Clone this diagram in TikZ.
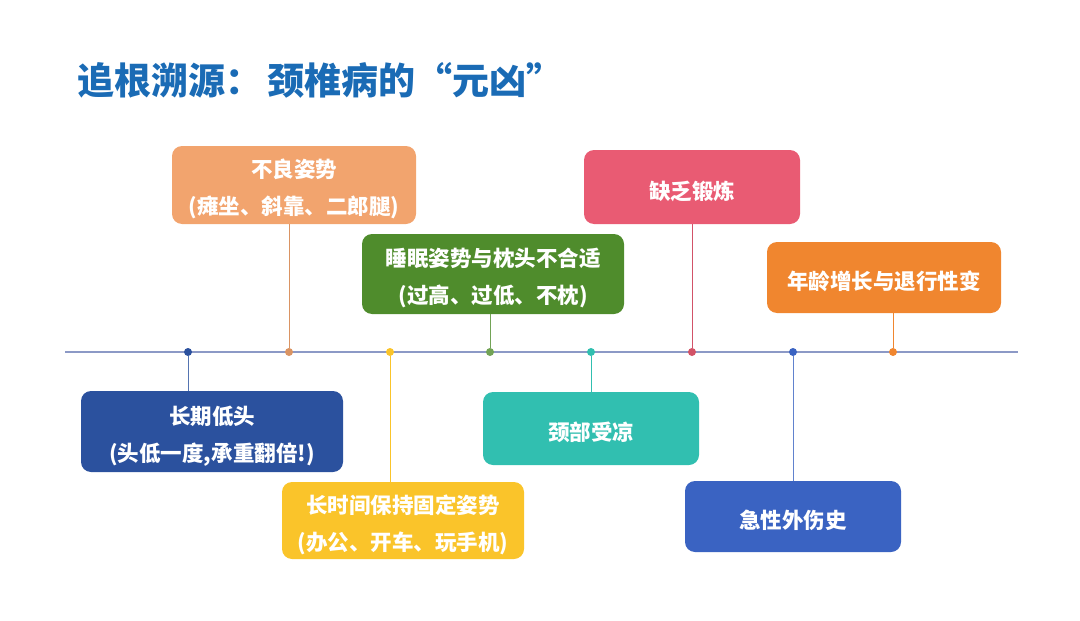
\documentclass[tikz,border=0pt]{standalone}
\usepackage{fontspec}
\usepackage{xcolor}
\newfontfamily\cjk{Noto Sans CJK SC}
\newcommand{\padtop}{\rule{0pt}{27pt}}
\definecolor{titleblue}{HTML}{1A6BB5}
\definecolor{axisgray}{HTML}{8C99C6}
\definecolor{postureorange}{HTML}{F2A46E}
\definecolor{sleepgreen}{HTML}{4F8C2C}
\definecolor{exercisered}{HTML}{E95B73}
\definecolor{ageorange}{HTML}{F0862F}
\definecolor{headblue}{HTML}{2B519E}
\definecolor{fixedyellow}{HTML}{FAC42A}
\definecolor{coldteal}{HTML}{31BFB0}
\definecolor{injuryblue}{HTML}{3A63C2}
\begin{document}
\begin{tikzpicture}[x=1pt,y=-1pt,
    cause/.style={rounded corners=10pt, inner sep=0pt, text=white, align=center,
        font=\cjk\bfseries\fontsize{21.5}{37}\selectfont},
    tick/.style={circle, inner sep=0pt, minimum size=8pt},
    stem/.style={line width=1pt}]
    \useasboundingbox (0,0) rectangle (1080,621);

    % Title
    \node[anchor=west, inner sep=0pt, text=titleblue, font=\cjk\bfseries\fontsize{37}{37}\selectfont]
        (title) at (77,80) {追根溯源：\hspace{5pt}颈椎病的“元凶”};

    % Timeline
    \coordinate (axis-start) at (65,352);
    \coordinate (axis-end) at (1018,352);
    \draw[axisgray, line width=1.2pt] (axis-start) -- (axis-end);

    % Dots on the timeline
    \node[tick, fill=headblue] (d1) at (188,352) {};
    \node[tick, fill=postureorange!90!black] (d2) at (289,352) {};
    \node[tick, fill=fixedyellow] (d3) at (390,352) {};
    \node[tick, fill=sleepgreen!80] (d4) at (490,352) {};
    \node[tick, fill=coldteal] (d5) at (591,352) {};
    \node[tick, fill=exercisered!90!black] (d6) at (692,352) {};
    \node[tick, fill=injuryblue] (d7) at (793,352) {};
    \node[tick, fill=ageorange] (d8) at (893,352) {};

    % Causes above the line
    \node[cause, fill=postureorange, minimum width=244pt, minimum height=78pt]
        (posture) at (294,185) {\padtop 不良姿势\\(瘫坐、斜靠、二郎腿)};
    \node[cause, fill=sleepgreen, minimum width=262pt, minimum height=80pt]
        (sleep) at (493,274) {\padtop 睡眠姿势与枕头不合适\\(过高、过低、不枕)};
    \node[cause, fill=exercisered, minimum width=216pt, minimum height=74pt]
        (exercise) at (692,187) {\padtop 缺乏锻炼};
    \node[cause, fill=ageorange, minimum width=234pt, minimum height=71pt]
        (age) at (884,277.5) {\padtop 年龄增长与退行性变};

    % Causes below the line
    \node[cause, fill=headblue, minimum width=262pt, minimum height=81pt]
        (head) at (212,431.5) {\padtop 长期低头\\(头低一度,承重翻倍!)};
    \node[cause, fill=fixedyellow, minimum width=242pt, minimum height=77pt]
        (fixed) at (403,520.5) {\padtop 长时间保持固定姿势\\(办公、开车、玩手机)};
    \node[cause, fill=coldteal, minimum width=216pt, minimum height=73pt]
        (cold) at (591,428.5) {\padtop 颈部受凉};
    \node[cause, fill=injuryblue, minimum width=216pt, minimum height=71pt]
        (injury) at (793,516.5) {\padtop 急性外伤史};

    % Stems
    \draw[stem, headblue!80] (d1) -- (d1 |- head.north);
    \draw[stem, postureorange!90!black] (d2) -- (d2 |- posture.south);
    \draw[stem, fixedyellow] (d3) -- (d3 |- fixed.north);
    \draw[stem, sleepgreen!80] (d4) -- (d4 |- sleep.south);
    \draw[stem, coldteal] (d5) -- (d5 |- cold.north);
    \draw[stem, exercisered!90!black] (d6) -- (d6 |- exercise.south);
    \draw[stem, injuryblue!80] (d7) -- (d7 |- injury.north);
    \draw[stem, ageorange] (d8) -- (d8 |- age.south);
\end{tikzpicture}
\end{document}
